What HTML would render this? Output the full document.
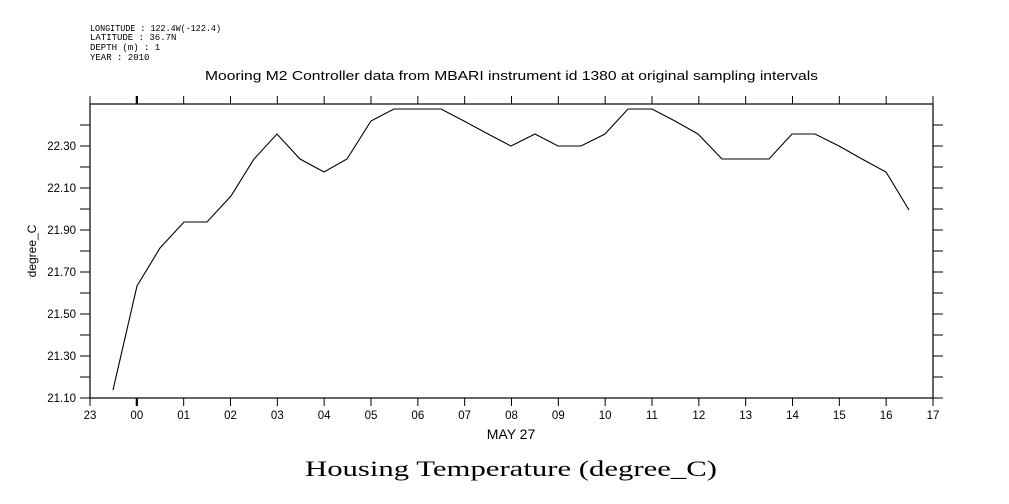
<!DOCTYPE html>
<html><head><meta charset="utf-8"><style>body{margin:0;background:#fff}svg{display:block}</style></head><body>
<svg width="1009" height="504" xmlns="http://www.w3.org/2000/svg" font-family="Liberation Sans, sans-serif">
<rect width="1009" height="504" fill="#fff"/>
<g font-size="9" fill="#000" font-family="Liberation Mono, monospace">
<text x="90" y="31" textLength="131" lengthAdjust="spacingAndGlyphs">LONGITUDE : 122.4W(-122.4)</text>
<text x="90" y="40">LATITUDE : 36.7N</text>
<text x="90" y="50">DEPTH (m) : 1</text>
<text x="90" y="60">YEAR : 2010</text>
</g>
<text x="205" y="80" font-size="12.5" textLength="613" lengthAdjust="spacingAndGlyphs">Mooring M2 Controller data from MBARI instrument id 1380 at original sampling intervals</text>
<rect x="90" y="104" width="843" height="294" fill="none" stroke="#000" stroke-width="1.2"/>
<g id="ticks" stroke="#000" stroke-width="1"></g>
<g id="lab" font-size="11.5" fill="#000"></g>
<text x="511" y="439" font-size="14" text-anchor="middle">MAY 27</text>
<text transform="translate(36,251) rotate(-90)" font-size="12" text-anchor="middle">degree_C</text>
<text x="305" y="476" font-size="22" textLength="412" lengthAdjust="spacingAndGlyphs" font-family="Liberation Serif, serif">Housing Temperature (degree_C)</text>
<polyline fill="none" stroke="#000" stroke-width="1.1" points="113,390 137,286 160,248 184,222 207,222 231,196 254,159 277,134 300,159 324,172 347,159 371,121 394,109 418,109 441,109 464,121 488,134 511,146 535,134 558,146 581,146 605,134 628,109 652,109 675,121 698,134 722,159 745,159 769,159 792,134 815,134 839,146 862,159 886,172 909,210"/>
</svg>
<script>
var t=document.getElementById('ticks'),l=document.getElementById('lab'),ns='http://www.w3.org/2000/svg';
function ln(a,b,c,d,w){var e=document.createElementNS(ns,'line');e.setAttribute('x1',a);e.setAttribute('y1',b);e.setAttribute('x2',c);e.setAttribute('y2',d);if(w)e.setAttribute('stroke-width',w);t.appendChild(e);}
function tx(x,y,s,a){var e=document.createElementNS(ns,'text');e.setAttribute('x',x);e.setAttribute('y',y);e.setAttribute('text-anchor',a);e.textContent=s;l.appendChild(e);}
var labs=['23','00','01','02','03','04','05','06','07','08','09','10','11','12','13','14','15','16','17'];
for(var i=0;i<=18;i++){var x=90+i*843/18;var w=i==1?2.2:1;ln(x,398,x,406,w);ln(x,104,x,96,w);tx(x,419,labs[i],'middle');}
for(var k=0;k<=13;k++){var y=398-k*21;if(y<104)break;ln(80,y,90,y);ln(933,y,943,y);if(k%2==0)tx(76,y+4,(21.1+k*0.1).toFixed(2),'end');}
</script>
</body></html>
